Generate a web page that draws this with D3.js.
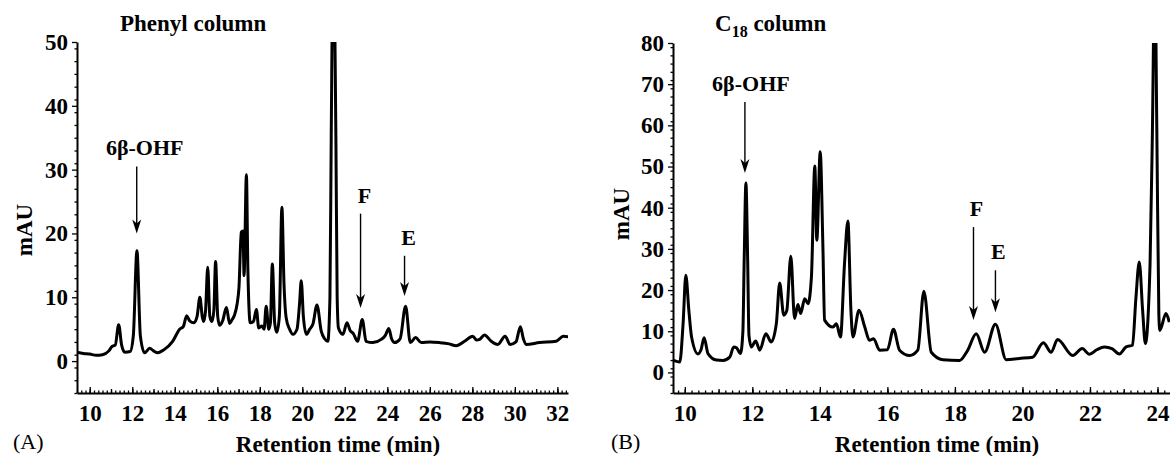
<!DOCTYPE html>
<html>
<head>
<meta charset="utf-8">
<script src="https://cdn.jsdelivr.net/npm/d3@7"></script>
<style>
  body { margin: 0; background: #fff; }
  svg text { font-family: "Liberation Serif", "Times New Roman", serif; font-weight: bold; fill: #000; }
</style>
</head>
<body>
<svg id="chart" width="1170" height="456"></svg>
<script>
// ---- data ----
const phenylTime = [9.4, 9.7, 10.0, 10.3, 10.6, 10.9, 11.05, 11.2, 11.36, 11.5, 11.65, 11.9, 12.05, 12.22, 12.38, 12.58, 12.82, 13.0, 13.2, 13.5, 13.9, 14.23, 14.4, 14.56, 14.7, 14.9, 15.05, 15.18, 15.3, 15.36, 15.45, 15.55, 15.65, 15.75, 15.84, 15.92, 16.02, 16.11, 16.25, 16.43, 16.58, 16.7, 16.82, 16.93, 17.02, 17.13, 17.21, 17.26, 17.37, 17.44, 17.55, 17.7, 17.84, 17.95, 18.1, 18.2, 18.3, 18.42, 18.5, 18.59, 18.7, 18.8, 18.92, 19.04, 19.14, 19.24, 19.4, 19.56, 19.75, 19.87, 19.95, 20.05, 20.19, 20.35, 20.5, 20.69, 20.89, 21.05, 21.2, 21.3, 21.36, 21.46, 21.58, 21.64, 21.7, 21.91, 22.1, 22.25, 22.4, 22.6, 22.82, 23.0, 23.32, 23.71, 23.9, 24.07, 24.2, 24.34, 24.6, 24.86, 25.08, 25.33, 25.6, 26.0, 26.45, 26.9, 27.24, 27.63, 28.02, 28.2, 28.34, 28.57, 28.89, 29.2, 29.54, 29.78, 30.05, 30.26, 30.4, 30.53, 31.16, 31.94, 32.28, 32.52]
const phenylMAU = [1.4, 1.2, 1.1, 0.9, 1.0, 1.6, 2.3, 2.5, 5.7, 2.5, 1.4, 1.5, 4.0, 17.3, 4.0, 1.3, 2.0, 1.6, 1.3, 1.8, 3.1, 5.0, 5.4, 7.1, 6.3, 6.0, 7.0, 10.0, 6.8, 6.2, 8.0, 14.7, 7.0, 6.2, 8.0, 15.6, 7.0, 5.6, 6.3, 8.4, 5.9, 6.5, 7.3, 8.9, 11.5, 20.2, 20.4, 13.4, 29.2, 14.2, 6.0, 6.2, 8.1, 5.2, 5.5, 5.0, 8.6, 5.0, 6.0, 15.2, 6.0, 4.5, 7.0, 24.1, 12.0, 6.8, 5.0, 4.2, 5.0, 9.0, 12.6, 7.0, 4.2, 5.0, 5.8, 8.8, 4.7, 3.5, 3.1, 10.0, 35.0, 65.0, 35.0, 10.0, 5.2, 4.2, 6.0, 4.8, 4.3, 3.1, 6.5, 3.1, 2.9, 3.4, 4.0, 5.1, 3.5, 2.9, 3.5, 8.6, 2.9, 3.7, 2.9, 3.0, 2.9, 2.7, 2.4, 3.1, 3.9, 3.3, 3.4, 4.1, 3.1, 2.6, 3.9, 2.6, 3.0, 5.4, 3.5, 2.6, 2.9, 3.1, 3.9, 3.8]

const c18Time = [9.67, 9.85, 9.95, 10.03, 10.12, 10.2, 10.39, 10.48, 10.57, 10.69, 10.94, 11.13, 11.33, 11.45, 11.53, 11.65, 11.72, 11.76, 11.81, 11.86, 11.9, 11.97, 12.1, 12.22, 12.4, 12.56, 12.71, 12.81, 12.93, 13.02, 13.14, 13.25, 13.35, 13.43, 13.55, 13.65, 13.75, 13.85, 13.91, 14.01, 14.09, 14.14, 14.39, 14.49, 14.61, 14.73, 14.83, 14.92, 14.98, 15.16, 15.33, 15.47, 15.59, 15.77, 16.0, 16.18, 16.36, 16.66, 16.9, 17.08, 17.3, 17.64, 18.14, 18.38, 18.63, 18.88, 19.2, 19.52, 19.9, 20.3, 20.62, 20.85, 21.04, 21.49, 21.77, 21.98, 22.2, 22.43, 22.65, 22.87, 23.07, 23.26, 23.36, 23.46, 23.56, 23.64, 23.78, 23.85, 23.92, 23.98, 24.04, 24.07, 24.25, 24.35]
const c18MAU = [2.9, 2.5, 12.0, 23.6, 15.0, 8.6, 4.5, 5.5, 8.4, 4.5, 3.0, 2.9, 3.7, 6.2, 6.0, 4.6, 10.0, 28.0, 46.0, 28.0, 9.0, 6.2, 7.6, 5.4, 9.4, 7.4, 11.8, 21.7, 13.9, 15.0, 28.2, 13.1, 16.5, 14.3, 17.9, 16.7, 23.2, 50.1, 32.1, 53.6, 30.5, 12.7, 11.0, 11.8, 8.6, 26.4, 36.8, 15.0, 8.6, 15.1, 11.0, 7.8, 8.2, 5.4, 5.5, 10.5, 5.4, 4.1, 5.4, 19.7, 4.9, 3.1, 2.9, 5.4, 9.4, 4.9, 11.7, 3.1, 3.4, 3.7, 7.2, 4.9, 8.0, 4.1, 5.8, 4.4, 5.5, 6.2, 5.8, 4.5, 6.2, 6.6, 18.0, 26.8, 15.0, 7.0, 26.4, 59.0, 100.0, 59.0, 14.0, 10.2, 14.3, 12.2]

const phenylXTicks = [10, 12, 14, 16, 18, 20, 22, 24, 26, 28, 30, 32]
const phenylYTicks = [0, 10, 20, 30, 40, 50]
const c18XTicks = [10, 12, 14, 16, 18, 20, 22, 24]
const c18YTicks = [0, 10, 20, 30, 40, 50, 60, 70, 80]

// peak annotations: label, time, arrow from / to (mAU)
const phenylNotes = [
  { label: "6β-OHF", t: 12.21, from: 30.5, to: 20.0, dx: 8 },
  { label: "F", t: 22.74, from: 23.1, to: 8.3, dx: 4 },
  { label: "E", t: 24.81, from: 16.5, to: 10.2, dx: 4 }
]
const c18Notes = [
  { label: "6β-OHF", t: 11.78, from: 65.7, to: 48.4, dx: 6 },
  { label: "F", t: 18.55, from: 35.3, to: 12.7, dx: 3 },
  { label: "E", t: 19.2, from: 24.8, to: 14.6, dx: 3 }
]

const svg = d3.select("#chart")

function drawPanel(cfg) {
  const x = d3.scaleLinear().domain(cfg.xDomain).range([cfg.left, cfg.right])
  const y = d3.scaleLinear().domain(cfg.yDomain).range([cfg.bottom, cfg.top])
  const g = svg.append("g")

  // clip so the tall peaks stop at the top of the axis
  svg.append("clipPath").attr("id", cfg.id + "-clip")
    .append("rect")
    .attr("x", cfg.left).attr("y", cfg.top)
    .attr("width", cfg.right - cfg.left).attr("height", cfg.bottom - cfg.top)

  // x axis: major, whole-minute and minor ticks pointing up
  const minors = d3.range(Math.ceil(cfg.xDomain[0] * 5), Math.floor(cfg.xDomain[1] * 5) + 1).map((i) => i / 5)
  const wholes = d3.range(Math.ceil(cfg.xDomain[0]), Math.floor(cfg.xDomain[1]) + 1)
  g.append("g").attr("transform", `translate(0,${cfg.bottom})`)
    .call(d3.axisBottom(x).tickValues(minors).tickSizeInner(-2.5).tickSizeOuter(0).tickFormat(""))
    .call((a) => a.select(".domain").remove())
  g.append("g").attr("transform", `translate(0,${cfg.bottom})`)
    .call(d3.axisBottom(x).tickValues(wholes).tickSizeInner(-4).tickSizeOuter(0).tickFormat(""))
    .call((a) => a.select(".domain").remove())
  const xAxis = g.append("g").attr("transform", `translate(0,${cfg.bottom})`)
    .call(d3.axisBottom(x).tickValues(cfg.xTicks).tickSizeInner(-6).tickSizeOuter(0).tickFormat(d3.format("d")))
  xAxis.selectAll("text").attr("dy", null).attr("y", 28).style("font-size", "23px")
  xAxis.select(".domain").attr("stroke-width", 2)

  // y axis: ticks pointing left
  const yMinors = d3.range(cfg.yDomain[0], cfg.yDomain[1] + 1, 2)
  g.append("g").attr("transform", `translate(${cfg.left},0)`)
    .call(d3.axisLeft(y).tickValues(yMinors).tickSizeInner(2.5).tickSizeOuter(0).tickFormat(""))
    .call((a) => a.select(".domain").remove())
  const yAxis = g.append("g").attr("transform", `translate(${cfg.left},0)`)
    .call(d3.axisLeft(y).tickValues(cfg.yTicks).tickSizeInner(5).tickSizeOuter(0).tickPadding(4).tickFormat(d3.format("d")))
  yAxis.selectAll("text").style("font-size", "23px")
  yAxis.select(".domain").attr("stroke-width", 2)
  g.selectAll(".tick line").attr("stroke-width", 1.3)

  // chromatogram trace
  const pts = cfg.time.map((t, i) => [t, cfg.mau[i]])
  g.append("path")
    .datum(pts)
    .attr("clip-path", `url(#${cfg.id}-clip)`)
    .attr("fill", "none")
    .attr("stroke", "#000")
    .attr("stroke-width", 3)
    .attr("stroke-linejoin", "round")
    .attr("d", d3.line().x((d) => x(d[0])).y((d) => y(d[1])).curve(d3.curveMonotoneX))

  // arrows and peak labels
  cfg.notes.forEach((n) => {
    const ax = x(n.t), y0 = y(n.from), y1 = y(n.to)
    g.append("line").attr("x1", ax).attr("x2", ax).attr("y1", y0).attr("y2", y1 - 8)
      .attr("stroke", "#000").attr("stroke-width", 1.4)
    g.append("path")
      .attr("d", `M${ax},${y1} L${ax - 4.5},${y1 - 14} L${ax},${y1 - 10} L${ax + 4.5},${y1 - 14} Z`)
      .attr("fill", "#000")
    g.append("text").attr("x", ax + n.dx).attr("y", y0 - 11)
      .attr("text-anchor", "middle").style("font-size", "22px").text(n.label)
  })

  // titles
  const title = g.append("text").attr("x", cfg.titleX).attr("y", 31).style("font-size", "23px")
  title.append("tspan").text(cfg.title[0])
  if (cfg.title[1]) {
    title.append("tspan").attr("dy", 6).style("font-size", "16px").text(cfg.title[1])
    title.append("tspan").attr("dy", -6).text(cfg.title[2])
  }
  g.append("text").attr("x", cfg.xTitleX).attr("y", 452).attr("text-anchor", "middle")
    .style("font-size", "23px").text("Retention time (min)")
  g.append("text").attr("transform", `translate(${cfg.yTitleX},${cfg.yTitleY}) rotate(-90)`)
    .attr("text-anchor", "middle").style("font-size", "23px").text("mAU")
  g.append("text").attr("x", cfg.tagX).attr("y", 449).style("font-weight", "normal")
    .style("font-size", "22px").text(cfg.tag)
}

drawPanel({
  id: "a", time: phenylTime, mau: phenylMAU, notes: phenylNotes,
  xDomain: [9.4, 32.5], yDomain: [-5, 50], xTicks: phenylXTicks, yTicks: phenylYTicks,
  left: 77, right: 568, top: 42, bottom: 393,
  title: ["Phenyl column"], titleX: 120, xTitleX: 338, yTitleX: 32, yTitleY: 230, tag: "(A)", tagX: 13
})

drawPanel({
  id: "b", time: c18Time, mau: c18MAU, notes: c18Notes,
  xDomain: [9.65, 24.4], yDomain: [-5, 80], xTicks: c18XTicks, yTicks: c18YTicks,
  left: 673, right: 1171, top: 43, bottom: 393,
  title: ["C", "18", " column"], titleX: 715, xTitleX: 937, yTitleX: 629, yTitleY: 214, tag: "(B)", tagX: 611
})
</script>
</body>
</html>
